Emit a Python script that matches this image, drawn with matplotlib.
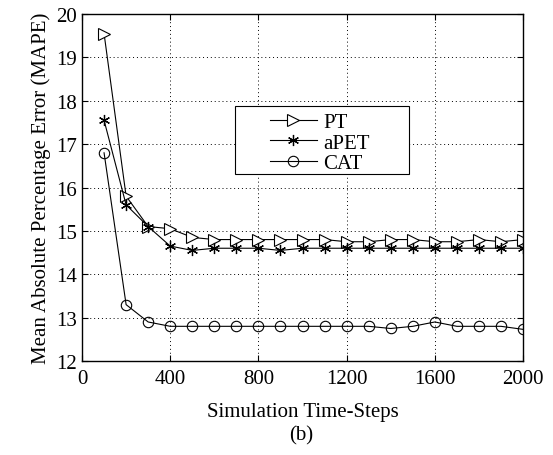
import numpy as np
import matplotlib
matplotlib.use("Agg")
import matplotlib.pyplot as plt
from matplotlib.patches import Rectangle

plt.rcParams['font.family'] = ['Liberation Serif', 'DejaVu Serif']
plt.rcParams['mathtext.fontset'] = 'stix'

steps = [100, 200, 300, 400, 500, 600, 700, 800, 900, 1000,
         1100, 1200, 1300, 1400, 1500, 1600, 1700, 1800, 1900, 2000]
pt = [19.55, 15.8, 15.1, 15.05, 14.85, 14.8, 14.8, 14.8, 14.8, 14.8,
      14.8, 14.75, 14.75, 14.8, 14.8, 14.75, 14.75, 14.8, 14.75, 14.8]
apet = [17.55, 15.6, 15.1, 14.65, 14.55, 14.6, 14.6, 14.6, 14.55, 14.6,
        14.6, 14.6, 14.6, 14.6, 14.6, 14.6, 14.6, 14.6, 14.6, 14.6]
cat = [16.8, 13.3, 12.9, 12.8, 12.8, 12.8, 12.8, 12.8, 12.8, 12.8,
       12.8, 12.8, 12.8, 12.75, 12.8, 12.9, 12.8, 12.8, 12.8, 12.73]

xticks = [0, 400, 800, 1200, 1600, 2000]
yticks = [12, 13, 14, 15, 16, 17, 18, 19, 20]

fig = plt.figure(figsize=(5.53, 4.56), dpi=100)
ax = fig.add_axes([0.1483, 0.2061, 0.7975, 0.761])

ax.plot(steps, pt, color='black', lw=0.8, marker='>', ms=8,
        mfc='white', mec='black', mew=0.8, label='PT')
ax.plot(steps, apet, color='black', lw=0.8, marker=(6, 2, 0), ms=8,
        mec='black', mew=0.9, label='aPET')
ax.plot(steps, cat, color='black', lw=0.8, marker='o', ms=7.5,
        mfc='none', mec='black', mew=0.8, label='CAT')

ax.set_xlim(0, 2000)
ax.set_ylim(12, 20)
ax.set_xticks(xticks)
ax.set_yticks(yticks)
ax.tick_params(direction='in', top=True, right=True, labelsize=15,
               length=4, width=0.8)
ax.tick_params(axis='x', pad=6)
ax.grid(True, linestyle=(0, (1, 3)), color='black', lw=0.7)
for s in ax.spines.values():
    s.set_linewidth(1.0)

ax.set_xlabel('Simulation Time-Steps', fontsize=15, labelpad=10)
ax.set_ylabel('Mean Absolute Percentage Error (MAPE)', fontsize=15, labelpad=4)
fig.text(0.5445, 0.044, '(b)', ha='center', va='center', fontsize=15)

# legend box drawn separately so the padding can match the original
ax.add_patch(Rectangle((0.347, 0.539), 0.3946, 0.196, transform=ax.transAxes,
                       facecolor='white', edgecolor='black', lw=0.8, zorder=4))
leg = ax.legend(loc='upper left', bbox_to_anchor=(0.426, 0.716), fontsize=15,
                frameon=False, handlelength=2.26, borderpad=0,
                labelspacing=0.05, handletextpad=0.3, borderaxespad=0)
leg.set_zorder(5)

fig.savefig('out.png', dpi=100)
